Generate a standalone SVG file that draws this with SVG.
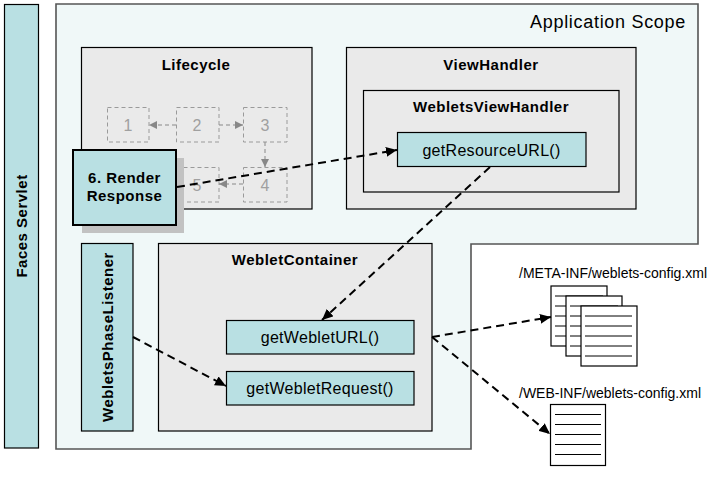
<svg xmlns="http://www.w3.org/2000/svg" width="715" height="479" viewBox="0 0 715 479">
<defs>
<marker id="ah" markerWidth="12" markerHeight="10" refX="11" refY="5" orient="auto" markerUnits="userSpaceOnUse">
<path d="M0,0 L11,5 L0,10 Z" fill="#000"/>
</marker>
<marker id="ahg" markerWidth="8" markerHeight="8" refX="8" refY="4" orient="auto" markerUnits="userSpaceOnUse">
<path d="M0,0 L8,4 L0,8 Z" fill="#888"/>
</marker>
</defs>
<style>
.cyan{fill:#B9E0E3;stroke:#000;stroke-width:1.2}
.grey{fill:#EAEAEA;stroke:#000;stroke-width:1.2}
.phase{fill:none;stroke:#9A9A9A;stroke-width:1;stroke-dasharray:4 3}
.pnum{font-family:"Liberation Sans",Arial,sans-serif;font-size:16px;fill:#A0A0A0;text-anchor:middle}
.title{font-family:"Liberation Sans",Arial,sans-serif;font-size:15px;font-weight:bold;fill:#000;text-anchor:middle;letter-spacing:0.5px}
.meth{font-family:"Liberation Sans",Arial,sans-serif;font-size:16px;fill:#000;text-anchor:middle;letter-spacing:0.3px}
.file{font-family:"Liberation Sans",Arial,sans-serif;font-size:14px;fill:#000}
.conn{fill:none;stroke:#000;stroke-width:2;stroke-dasharray:8 5}
.pconn{fill:none;stroke:#888;stroke-width:1;stroke-dasharray:4 3}
.page{fill:#fff;stroke:#000;stroke-width:1.2}
.pl{stroke:#000;stroke-width:1}
</style>

<g id="application-scope">
<path d="M56,4 H698 V244 H471 V449 H56 Z" fill="#F0F8F8" stroke="#555" stroke-width="1.6"/>
<text x="686" y="28" font-family="Liberation Sans,Arial,sans-serif" font-size="18" text-anchor="end" letter-spacing="0.7">Application Scope</text>
</g>

<g id="faces-servlet">
<rect x="4.5" y="4.5" width="34" height="443.5" class="cyan"/>
<text class="title" transform="translate(27,226) rotate(-90)" letter-spacing="1.2">Faces Servlet</text>
</g>

<g id="lifecycle">
<rect x="81.5" y="47.5" width="230.5" height="161.5" class="grey"/>
<text x="196" y="70" class="title" letter-spacing="0.8">Lifecycle</text>
</g>

<g id="phase-1">
<rect x="107.5" y="107.5" width="41.5" height="34.5" class="phase"/>
<text x="128" y="131" class="pnum">1</text>
</g>
<g id="phase-2">
<rect x="176.5" y="107.5" width="42.5" height="34.5" class="phase"/>
<text x="197" y="131" class="pnum">2</text>
</g>
<g id="phase-3">
<rect x="243.5" y="107.5" width="43.5" height="34.5" class="phase"/>
<text x="265" y="131" class="pnum">3</text>
</g>
<g id="phase-4">
<rect x="243.5" y="167.5" width="43.5" height="34.5" class="phase"/>
<text x="265" y="191" class="pnum">4</text>
</g>
<g id="phase-5">
<rect x="176.5" y="167.5" width="42.5" height="34.5" class="phase"/>
<text x="197" y="191" class="pnum">5</text>
</g>

<g id="phase-connectors">
<line x1="176" y1="125" x2="149" y2="125" class="pconn" marker-end="url(#ahg)"/>
<line x1="219" y1="125" x2="243" y2="125" class="pconn" marker-end="url(#ahg)"/>
<line x1="265" y1="142" x2="265" y2="167" class="pconn" marker-end="url(#ahg)"/>
<line x1="243" y1="184" x2="219" y2="184" class="pconn" marker-end="url(#ahg)"/>
</g>

<g id="render-response">
<rect x="82" y="158" width="102" height="75" fill="#C2C2C2"/>
<rect x="73" y="150" width="103" height="75" fill="#B9E0E3" stroke="#000" stroke-width="2"/>
<text x="124.5" y="183" class="title" font-size="14" letter-spacing="0.4">6. Render</text>
<text x="124.5" y="201" class="title" font-size="14" letter-spacing="0.4">Response</text>
</g>

<g id="viewhandler">
<rect x="346.5" y="47.5" width="289.5" height="161.5" class="grey"/>
<text x="491" y="70" class="title">ViewHandler</text>
</g>

<g id="webletsviewhandler">
<rect x="363.5" y="90.5" width="255.5" height="101.5" class="grey"/>
<text x="491" y="112" class="title">WebletsViewHandler</text>
</g>

<g id="getresourceurl">
<rect x="397.5" y="132.5" width="188.5" height="34" class="cyan"/>
<text x="491.5" y="156" class="meth" letter-spacing="0.6">getResourceURL()</text>
</g>

<g id="webletsphaselistener">
<rect x="81.5" y="243.5" width="51.5" height="187.5" class="cyan"/>
<text class="title" transform="translate(112.5,337) rotate(-90)" letter-spacing="0.4">WebletsPhaseListener</text>
</g>

<g id="webletcontainer">
<rect x="158.5" y="243.5" width="273.5" height="187.5" class="grey"/>
<text x="295" y="265" class="title">WebletContainer</text>
</g>

<g id="getwebleturl">
<rect x="226.5" y="320.5" width="187.5" height="33.5" class="cyan"/>
<text x="320" y="343" class="meth">getWebletURL()</text>
</g>

<g id="getwebletrequest">
<rect x="226.5" y="371.5" width="187.5" height="33.5" class="cyan"/>
<text x="320" y="394" class="meth">getWebletRequest()</text>
</g>

<g id="meta-inf-config">
<text x="519" y="278" class="file">/META-INF/weblets-config.xml</text>
<rect x="551" y="286" width="56" height="60" class="page"/>
<path d="M555,296 H603 M555,306 H603 M555,316 H603 M555,326 H603 M555,336 H603" class="pl"/>
<rect x="566" y="296" width="56" height="60" class="page"/>
<path d="M570,306 H618 M570,316 H618 M570,326 H618 M570,336 H618 M570,346 H618" class="pl"/>
<rect x="581" y="306" width="56" height="60" class="page"/>
<path d="M585,316 H632 M585,326 H632 M585,336 H632 M585,346 H632 M585,356 H632" class="pl"/>
</g>

<g id="web-inf-config">
<text x="519" y="398" class="file">/WEB-INF/weblets-config.xml</text>
<rect x="550.5" y="404.5" width="55" height="61" class="page"/>
<path d="M555,414.5 H601 M555,424.5 H601 M555,434.5 H601 M555,444.5 H601 M555,454.5 H601" class="pl"/>
</g>

<g id="connectors">
<line x1="177" y1="187" x2="397" y2="150" class="conn" marker-end="url(#ah)"/>
<line x1="490" y1="167" x2="322" y2="320" class="conn" marker-end="url(#ah)"/>
<line x1="133" y1="337" x2="226" y2="386" class="conn" marker-end="url(#ah)"/>
<line x1="432" y1="337" x2="551" y2="317" class="conn" marker-end="url(#ah)"/>
<line x1="432" y1="337" x2="550" y2="434" class="conn" marker-end="url(#ah)"/>
</g>
</svg>
